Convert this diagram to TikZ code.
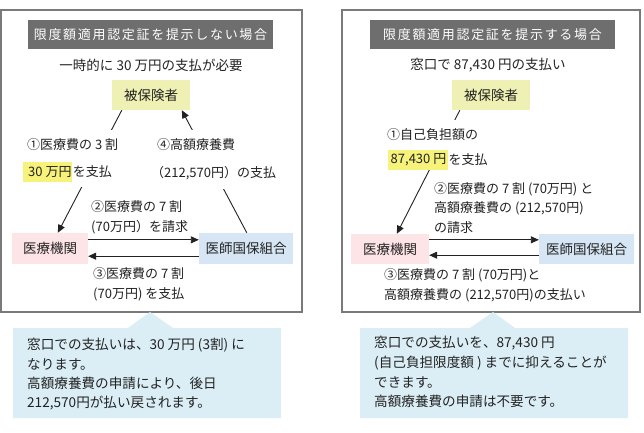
\documentclass[tikz,border=0pt]{standalone}
\usepackage{fontspec}
\setmainfont{Noto Sans CJK JP}
\newfontfamily\jpwide[LetterSpace=13]{Noto Sans CJK JP}
\usetikzlibrary{arrows.meta}
\definecolor{ink}{HTML}{222222}
\definecolor{framec}{HTML}{7A7A7A}
\definecolor{titlec}{HTML}{6E6E6E}
\definecolor{patc}{HTML}{EEF1B3}
\definecolor{hlc}{HTML}{F6F27A}
\definecolor{hospc}{HTML}{FDE4E7}
\definecolor{koc}{HTML}{D7E6F5}
\definecolor{callc}{HTML}{DBEEF6}
\tikzset{
  txt/.style={font=\fontsize{13}{15}\selectfont, text=ink, inner sep=0pt, anchor=west},
  ctxt/.style={txt, font=\fontsize{13.6}{15}\selectfont},
  cover/.style={txt, fill=white, inner ysep=9pt, inner xsep=0.5pt},
  hilite/.style={txt, fill=hlc, inner xsep=0.5pt, inner ysep=4pt},
  titlebox/.style={fill=titlec, text=white, font=\jpwide\fontsize{13}{15}\selectfont, minimum width=245pt, minimum height=29pt, inner sep=0pt},
  subtxt/.style={font=\fontsize{13.5}{15}\selectfont, text=ink, inner sep=0pt},
  box/.style={font=\fontsize{13.5}{15}\selectfont, text=ink, inner sep=0pt},
  arr/.style={-{Triangle[length=8pt,width=7pt]}, line width=0.9pt, draw=ink},
  framebox/.style={draw=framec, line width=1.5pt},
  callout/.style={fill=callc},
}
\begin{document}
\begin{tikzpicture}[x=1pt,y=-1pt]
\useasboundingbox (0,0) rectangle (644,432);
\fill[white] (0,0) rectangle (644,432);

% ===== Left panel =====
\draw[framebox] (1,10) rectangle (302,312);
\node[titlebox] (t1) at (150.5,34.5) {限度額適用認定証を提示しない場合};
\node[subtxt] (s1) at (151,65) {一時的に 30 万円の支払が必要};
\node[box, fill=patc, minimum width=78pt, minimum height=30pt] (pat1) at (151,95) {被保険者};
\node[box, fill=hospc, minimum width=76pt, minimum height=31pt] (hosp1) at (50,248.5) {医療機関};
\node[box, fill=koc, minimum width=94pt, minimum height=31pt] (ko1) at (246,248.5) {医師国保組合};

\draw[arr] ([xshift=10pt]pat1.south west) -- ([xshift=46pt]hosp1.north west);
\draw[arr] ([xshift=48pt]ko1.north west) -- ([xshift=70pt]pat1.south west);
\draw[arr] ([yshift=-7pt]hosp1.north east) -- ([yshift=-7pt]ko1.north west);
\draw[arr] ([yshift=8pt]ko1.south west) -- ([yshift=8pt]hosp1.south east);

\node[cover] (l1a) at (26.5,145) {①医療費の 3 割};
\node[hilite] (l1h) at (23,172) {\kern4.5pt 30 万円};
\node[cover, anchor=west] (l1b) at (l1h.east) {を支払};
\node[cover] (l4a) at (156.5,145) {④高額療養費};
\node[cover] (l4b) at (150.5,173) {（212,570円）の支払};
\node[txt] (l2a) at (91,207) {②医療費の 7 割};
\node[txt] (l2b) at (91,227) {(70万円）を請求};
\node[txt] (l3a) at (93,274) {③医療費の 7 割};
\node[txt] (l3b) at (93,294) {(70万円) を支払};

\fill[callout] (13,328) -- (128,328) -- (150,312) -- (173,328) -- (281,328) -- (281,418) -- (13,418) -- cycle;
\node[ctxt] (c1a) at (27,345) {窓口での支払いは、30 万円 (3割) に};
\node[ctxt] (c1b) at (27,364) {なります。};
\node[ctxt] (c1c) at (27,383) {高額療養費の申請により、後日};
\node[ctxt] (c1d) at (27,403) {212,570円が払い戻されます。};

% ===== Right panel =====
\draw[framebox] (342,10) rectangle (640,312);
\node[titlebox] (t2) at (492.5,34.5) {限度額適用認定証を提示する場合};
\node[subtxt] (s2) at (488,65) {窓口で 87,430 円の支払い};
\node[box, fill=patc, minimum width=78pt, minimum height=30pt] (pat2) at (491,95) {被保険者};
\node[box, fill=hospc, minimum width=78pt, minimum height=30pt] (hosp2) at (390,249) {医療機関};
\node[box, fill=koc, minimum width=95pt, minimum height=30pt] (ko2) at (586.5,249) {医師国保組合};

\draw[arr] ([xshift=8pt]pat2.south west) -- ([xshift=46pt]hosp2.north west);
\draw[arr] ([yshift=-6pt]hosp2.north east) -- ([yshift=-6pt]ko2.north west);
\draw[arr] ([yshift=9pt]ko2.south west) -- ([yshift=9pt]hosp2.south east);

\node[cover] (r1a) at (386.5,135) {①自己負担額の};
\node[hilite] (r1h) at (388,160) {\kern2pt 87,430 円\kern1pt};
\node[cover, anchor=west] (r1b) at (r1h.east) {を支払};
\node[txt] (r2a) at (434,189) {②医療費の 7 割 (70万円) と};
\node[txt] (r2b) at (434,208) {高額療養費の (212,570円)};
\node[txt] (r2c) at (434,228) {の請求};
\node[txt] (r3a) at (384,275) {③医療費の 7 割 (70万円)と};
\node[txt] (r3b) at (384,295) {高額療養費の (212,570円)の支払い};

\fill[callout] (360,328) -- (470,328) -- (493,312) -- (515,328) -- (628,328) -- (628,418) -- (360,418) -- cycle;
\node[ctxt] (c2a) at (374,343) {窓口での支払いを、87,430 円};
\node[ctxt] (c2b) at (374,363) {(自己負担限度額 ) までに抑えることが};
\node[ctxt] (c2c) at (374,382) {できます。};
\node[ctxt] (c2d) at (374,401) {高額療養費の申請は不要です。};
\end{tikzpicture}
\end{document}
